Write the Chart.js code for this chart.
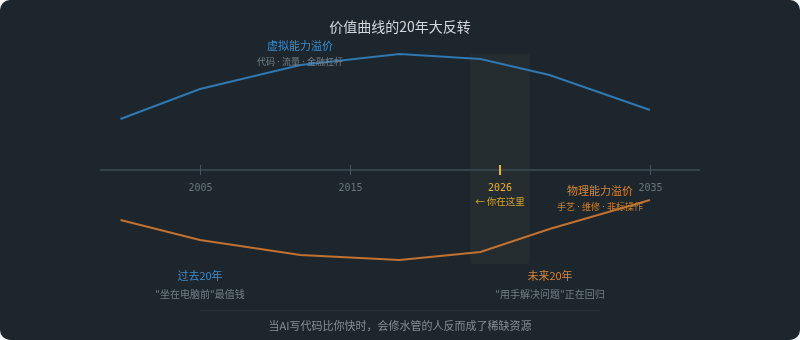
<!DOCTYPE html>
<html>
<head>
<meta charset="utf-8">
<script src="https://cdn.jsdelivr.net/npm/chart.js@4"></script>
<style>
  html, body { margin: 0; padding: 0; background: #f4f5f6; }
  .card { width: 800px; height: 340px; background: #1d262c; border-radius: 10px; overflow: hidden; }
  canvas { display: block; }
</style>
</head>
<body>
<div class="card"><canvas id="chart" width="800" height="340"></canvas></div>
<script>
// data
const years = [1999.7, 2005, 2011.7, 2018.3, 2023.7, 2028.3, 2035];
const virtualPremium = [51, 81, 105, 116, 111, 95, 60];     // 虚拟能力溢价
const physicalPremium = [-50, -70, -85, -90, -82, -59, -30]; // 物理能力溢价
const tickYears = [2005, 2015, 2035];
const nowLabel = '2026';
const nowBand = [2023, 2027];

const CJK = '"Noto Sans CJK SC", "Noto Sans", sans-serif';
const LATIN_CJK = '"Noto Sans", "Noto Sans CJK SC", sans-serif';
const MONO = '"DejaVu Sans Mono", monospace';

function toXY(values) {
  return years.map((y, i) => ({ x: y, y: values[i] }));
}

// band, axis, ticks and all the text
const decor = {
  id: 'decor',
  beforeDatasetsDraw(chart) {
    const { ctx, scales: { x, y } } = chart;
    const zero = y.getPixelForValue(0);
    ctx.save();
    // "now" band
    const bx0 = x.getPixelForValue(nowBand[0]);
    const bx1 = x.getPixelForValue(nowBand[1]);
    ctx.fillStyle = 'rgba(230, 210, 160, 0.04)';
    ctx.beginPath();
    ctx.roundRect(bx0, y.getPixelForValue(116), bx1 - bx0, y.getPixelForValue(-94) - y.getPixelForValue(116), 3);
    ctx.fill();
    // axis line
    ctx.strokeStyle = '#36434b';
    ctx.lineWidth = 2;
    ctx.beginPath();
    ctx.moveTo(chart.chartArea.left, zero);
    ctx.lineTo(chart.chartArea.right, zero);
    ctx.stroke();
    // ticks
    ctx.lineWidth = 1;
    ctx.strokeStyle = '#46545d';
    ctx.fillStyle = '#68757d';
    ctx.font = '10px ' + MONO;
    ctx.textAlign = 'center';
    ctx.textBaseline = 'middle';
    tickYears.forEach(t => {
      const px = Math.round(x.getPixelForValue(t)) + 0.5;
      ctx.beginPath();
      ctx.moveTo(px, zero - 5);
      ctx.lineTo(px, zero + 5);
      ctx.stroke();
      ctx.fillText(String(t), px, zero + 18);
    });
    // now marker
    const nx = Math.round((bx0 + bx1) / 2);
    ctx.strokeStyle = '#e6b422';
    ctx.lineWidth = 2;
    ctx.beginPath();
    ctx.moveTo(nx, zero - 5);
    ctx.lineTo(nx, zero + 5);
    ctx.stroke();
    ctx.fillStyle = '#e6b422';
    ctx.font = '10px ' + MONO;
    ctx.fillText(nowLabel, nx, zero + 18);
    ctx.fillStyle = '#d4a52a';
    ctx.font = '9.5px ' + CJK;
    ctx.fillText('← 你在这里', nx, zero + 31);
    ctx.restore();
  },
  afterDatasetsDraw(chart) {
    const { ctx } = chart;
    ctx.save();
    ctx.textAlign = 'center';
    ctx.textBaseline = 'middle';
    const txt = (s, px, py, color, size, family) => {
      ctx.fillStyle = color;
      ctx.font = size + 'px ' + (family || CJK);
      ctx.fillText(s, px, py);
    };
    const dot = ' · ';
    txt('价值曲线的20年大反转', 400, 27, '#d3d8dc', 14);
    txt('虚拟能力溢价', 300, 46, '#3e8ccb', 11);
    txt(['代码', '流量', '金融杠杆'].join(dot), 300, 62, '#76828a', 9, LATIN_CJK);
    txt('物理能力溢价', 600, 191, '#d98530', 11);
    txt(['手艺', '维修', '非标操作'].join(dot), 600, 207, '#c8802e', 9, LATIN_CJK);
    txt('过去20年', 200, 276, '#3e8ccb', 11);
    txt('"坐在电脑前"最值钱', 200, 294, '#737f87', 10);
    txt('未来20年', 550, 276, '#d98530', 11);
    txt('"用手解决问题"正在回归', 550, 294, '#737f87', 10);
    // separator
    ctx.strokeStyle = 'rgba(255,255,255,0.06)';
    ctx.lineWidth = 1;
    ctx.beginPath();
    ctx.moveTo(200, 310.5);
    ctx.lineTo(600, 310.5);
    ctx.stroke();
    txt('当AI写代码比你快时，会修水管的人反而成了稀缺资源', 400, 326, '#858e95', 11);
    ctx.restore();
  }
};

new Chart(document.getElementById('chart').getContext('2d'), {
  type: 'line',
  data: {
    datasets: [{
      label: '虚拟能力溢价',
      data: toXY(virtualPremium),
      borderColor: '#2f78b2',
      borderWidth: 2,
      pointRadius: 0,
      tension: 0
    }, {
      label: '物理能力溢价',
      data: toXY(physicalPremium),
      borderColor: '#c27130',
      borderWidth: 2,
      pointRadius: 0,
      tension: 0
    }]
  },
  options: {
    responsive: false,
    animation: false,
    layout: { padding: { left: 100, right: 100, top: 40, bottom: 40 } },
    plugins: { legend: { display: false }, tooltip: { enabled: false } },
    scales: {
      x: { type: 'linear', display: false, min: 2005 - 100 / 15, max: 2035 + 50 / 15 },
      y: { display: false, min: -130, max: 130 }
    }
  },
  plugins: [decor]
});
</script>
</body>
</html>
